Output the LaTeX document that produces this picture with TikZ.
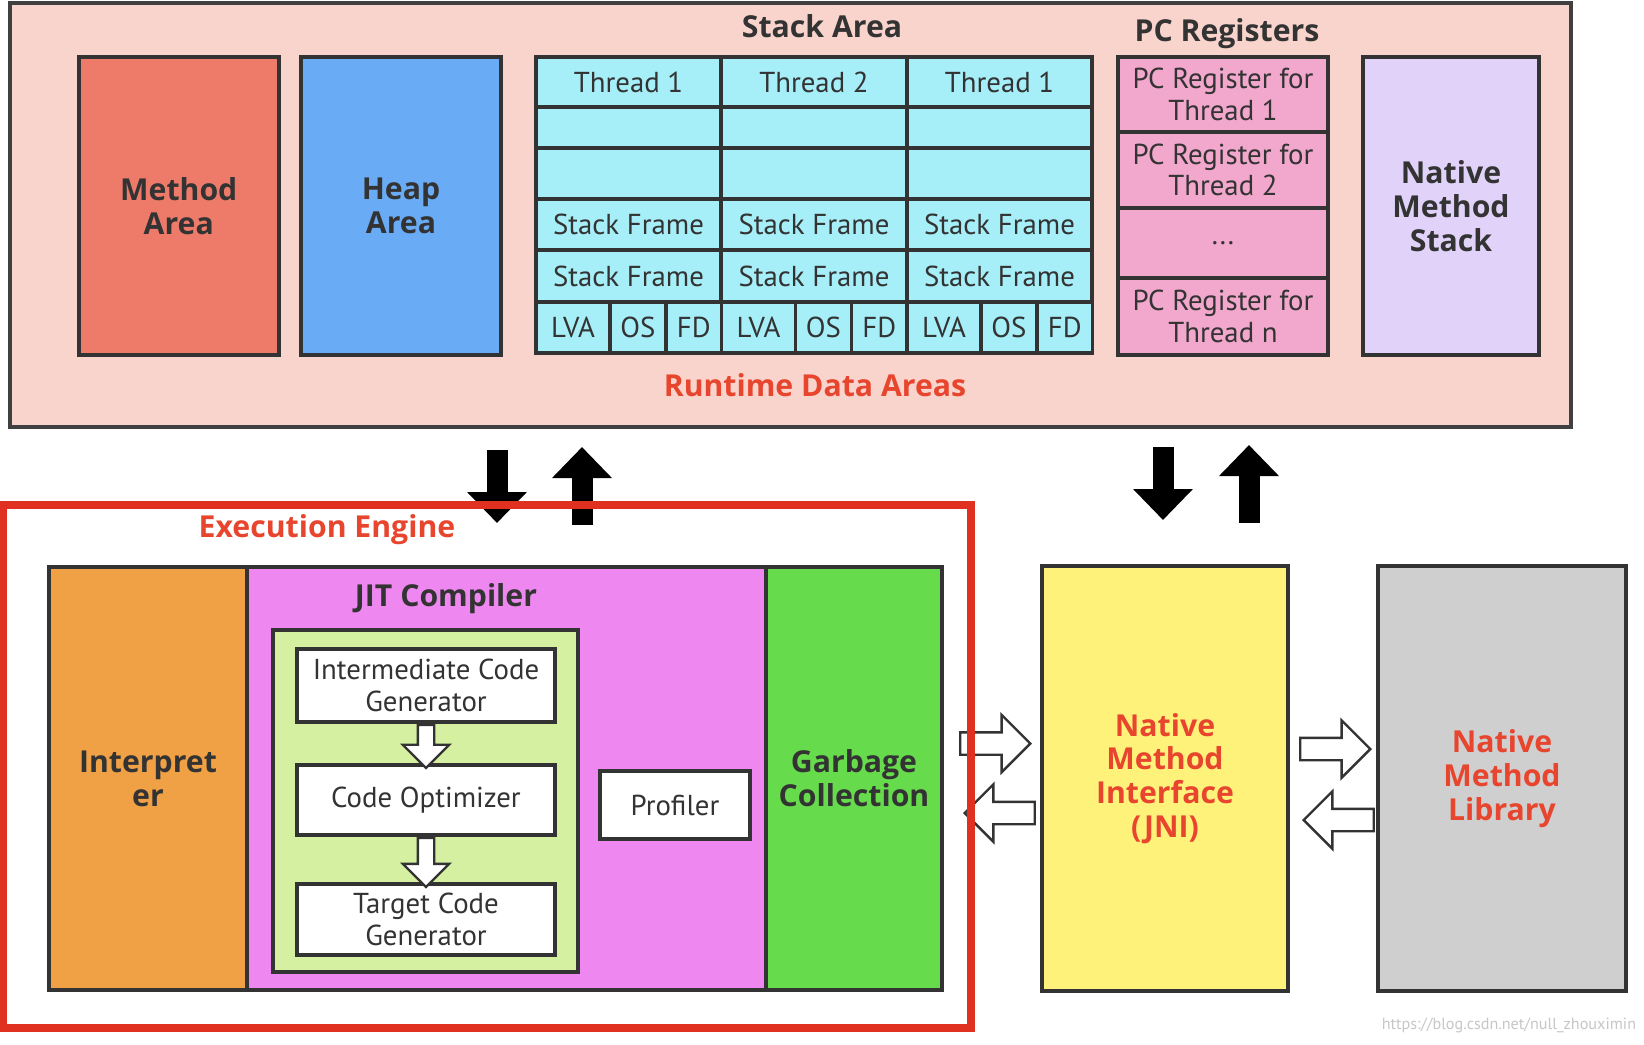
\documentclass[tikz,border=0pt]{standalone}
\usepackage{fontspec}
\setmainfont{PT Sans}
\newfontfamily\titlefont{Open Sans}
\usetikzlibrary{arrows.meta,shapes.arrows}

\definecolor{rdapink}{HTML}{F8D4CC}
\definecolor{methodred}{HTML}{EE7B6A}
\definecolor{heapblue}{HTML}{6AABF5}
\definecolor{stackcyan}{HTML}{A6EEF8}
\definecolor{pcpink}{HTML}{F2A7CC}
\definecolor{nmslilac}{HTML}{E0D2F8}
\definecolor{interporange}{HTML}{F0A045}
\definecolor{jitmagenta}{HTML}{EE88F0}
\definecolor{jitgreen}{HTML}{D4F0A0}
\definecolor{gcgreen}{HTML}{66DB4C}
\definecolor{jniyellow}{HTML}{FFF27A}
\definecolor{libgray}{HTML}{CFCFCF}
\definecolor{labelred}{HTML}{E8452E}
\definecolor{framered}{HTML}{E03020}
\definecolor{textdark}{HTML}{333333}

\newcommand{\boldlbl}{\titlefont\bfseries\fontsize{8.6}{9.6}\selectfont}
\newcommand{\celllbl}{\fontsize{8.2}{9}\selectfont}

\tikzset{
	region/.style={draw=black!75, line width=1pt, inner sep=0pt},
	title/.style={text=textdark, font=\boldlbl, inner sep=0pt},
	redtitle/.style={text=labelred, font=\boldlbl, inner sep=0pt},
	area/.style={draw=black!80, line width=1pt, inner sep=0pt, align=center, text=textdark, font=\boldlbl, minimum width=2.0cm, minimum height=2.98cm},
	cell/.style={draw=black!80, line width=1pt, fill=stackcyan, inner sep=0pt, minimum width=1.855cm, text=textdark, font=\celllbl},
	pcreg/.style={draw=black!80, line width=1pt, fill=pcpink, inner sep=0pt, align=center, minimum width=2.10cm, text=textdark, font=\celllbl},
	engine/.style={draw=black!80, line width=1pt, inner sep=0pt, align=center, minimum height=4.23cm, text=textdark, font=\boldlbl},
	whitebox/.style={draw=black!80, line width=1pt, fill=white, inner sep=0pt, align=center, text=textdark, font=\celllbl},
	native/.style={draw=black!80, line width=1pt, inner sep=0pt, align=center, minimum height=4.25cm, text=labelred, font=\boldlbl},
	bigarrow/.style={black, line width=0.21cm, -{Triangle[length=0.31cm, width=0.58cm]}},
	hollowarrow/.style={single arrow, draw=black!80, fill=white, line width=0.7pt, inner sep=0pt, inner ysep=0.1cm, minimum width=0pt, minimum height=0.70cm, single arrow head extend=0.175cm},
	jitarrow/.style={single arrow, shape border rotate=270, draw=black!80, fill=white, line width=0.7pt, inner sep=0pt, inner xsep=0.07cm, minimum width=0pt, single arrow head extend=0.15cm}
}

\begin{document}
\begin{tikzpicture}
	\path[use as bounding box, fill=white] (0,0) rectangle (16.44,-10.44);
	
	% runtime data areas
	\node[region, fill=rdapink, minimum width=15.61cm, minimum height=4.24cm] (rda) at (7.905,-2.15) {};
	\node[title] (stacklbl) at (8.22,-0.26) {Stack Area};
	\node[title] (pclbl) at (12.27,-0.34) {PC Registers};
	\node[redtitle] (rdalbl) at (8.15,-3.85) {Runtime Data Areas};
	
	\node[area, fill=methodred] (method) at (1.7875,-2.06) {Method\\Area};
	\node[area, fill=heapblue] (heap) at (4.01,-2.06) {Heap\\Area};
	\node[area, fill=nmslilac, minimum width=1.76cm] (nms) at (14.51,-2.06) {Native\\Method\\Stack};
	
	% stack area, one column per thread
	\node[cell, minimum height=0.50cm] (th1) at (6.285,-0.82) {Thread 1};
	\node[cell, minimum height=0.41cm] (ea1) at (6.285,-1.275) {};
	\node[cell, minimum height=0.51cm] (eb1) at (6.285,-1.735) {};
	\node[cell, minimum height=0.51cm] (sfa1) at (6.285,-2.245) {Stack Frame};
	\node[cell, minimum height=0.52cm] (sfb1) at (6.285,-2.76) {Stack Frame};
	\node[cell, minimum height=0.51cm, minimum width=0.74cm] (lva1) at (5.73,-3.275) {LVA};
	\node[cell, minimum height=0.51cm, minimum width=0.56cm] (os1) at (6.38,-3.275) {OS};
	\node[cell, minimum height=0.51cm, minimum width=0.555cm] (fd1) at (6.9375,-3.275) {FD};
	
	\node[cell, minimum height=0.50cm] (th2) at (8.14,-0.82) {Thread 2};
	\node[cell, minimum height=0.41cm] (ea2) at (8.14,-1.275) {};
	\node[cell, minimum height=0.51cm] (eb2) at (8.14,-1.735) {};
	\node[cell, minimum height=0.51cm] (sfa2) at (8.14,-2.245) {Stack Frame};
	\node[cell, minimum height=0.52cm] (sfb2) at (8.14,-2.76) {Stack Frame};
	\node[cell, minimum height=0.51cm, minimum width=0.74cm] (lva2) at (7.585,-3.275) {LVA};
	\node[cell, minimum height=0.51cm, minimum width=0.56cm] (os2) at (8.235,-3.275) {OS};
	\node[cell, minimum height=0.51cm, minimum width=0.555cm] (fd2) at (8.7925,-3.275) {FD};
	
	\node[cell, minimum height=0.50cm] (th3) at (9.995,-0.82) {Thread 1};
	\node[cell, minimum height=0.41cm] (ea3) at (9.995,-1.275) {};
	\node[cell, minimum height=0.51cm] (eb3) at (9.995,-1.735) {};
	\node[cell, minimum height=0.51cm] (sfa3) at (9.995,-2.245) {Stack Frame};
	\node[cell, minimum height=0.52cm] (sfb3) at (9.995,-2.76) {Stack Frame};
	\node[cell, minimum height=0.51cm, minimum width=0.74cm] (lva3) at (9.44,-3.275) {LVA};
	\node[cell, minimum height=0.51cm, minimum width=0.56cm] (os3) at (10.09,-3.275) {OS};
	\node[cell, minimum height=0.51cm, minimum width=0.555cm] (fd3) at (10.6475,-3.275) {FD};
	
	% pc registers
	\node[pcreg, minimum height=0.75cm] (pc1) at (12.23,-0.945) {PC Register for\\Thread 1};
	\node[pcreg, minimum height=0.76cm] (pc2) at (12.23,-1.70) {PC Register for\\Thread 2};
	\node[pcreg, minimum height=0.70cm] (pc3) at (12.23,-2.43) {...};
	\node[pcreg, minimum height=0.77cm] (pc4) at (12.23,-3.165) {PC Register for\\Thread n};
	
	% arrows between the two halves
	\coordinate (mdn0) at (4.97,-4.50);
	\coordinate (mdn1) at (4.97,-5.23);
	\coordinate (mup0) at (5.82,-5.25);
	\coordinate (mup1) at (5.82,-4.47);
	\coordinate (ndn0) at (11.63,-4.47);
	\coordinate (ndn1) at (11.63,-5.20);
	\coordinate (nup0) at (12.49,-5.23);
	\coordinate (nup1) at (12.49,-4.45);
	\draw[bigarrow] (mdn0) -- (mdn1);
	\draw[bigarrow] (mup0) -- (mup1);
	\draw[bigarrow] (ndn0) -- (ndn1);
	\draw[bigarrow] (nup0) -- (nup1);
	
	% execution engine
	\node[engine, fill=interporange, minimum width=1.98cm] (interp) at (1.48,-7.785) {Interpret\\er};
	\node[engine, fill=jitmagenta, minimum width=5.19cm] (jit) at (5.065,-7.785) {};
	\node[engine, fill=gcgreen, minimum width=1.76cm] (gc) at (8.54,-7.785) {Garbage\\Collection};
	\node[title] (jitlbl) at (4.46,-5.99) {JIT Compiler};
	\node[draw=black!80, line width=1pt, fill=jitgreen, minimum width=3.05cm, minimum height=3.42cm] (jitin) at (4.255,-8.01) {};
	\node[whitebox, minimum width=2.58cm, minimum height=0.73cm] (icg) at (4.26,-6.855) {Intermediate Code\\Generator};
	\node[whitebox, minimum width=2.58cm, minimum height=0.70cm] (opt) at (4.26,-8.00) {Code Optimizer};
	\node[whitebox, minimum width=2.58cm, minimum height=0.71cm] (tcg) at (4.26,-9.195) {Target Code\\Generator};
	\node[whitebox, minimum width=1.50cm, minimum height=0.68cm] (prof) at (6.75,-8.05) {Profiler};
	\node[jitarrow, anchor=tail, minimum height=0.43cm] (icgopt) at (icg.south) {};
	\node[jitarrow, anchor=tail, minimum height=0.49cm] (opttcg) at (opt.south) {};
	
	% native side
	\node[native, fill=jniyellow, minimum width=2.46cm] (jni) at (11.65,-7.785) {Native\\Method\\Interface\\(JNI)};
	\node[native, fill=libgray, minimum width=2.48cm] (lib) at (15.02,-7.785) {Native\\Method\\Library};
	
	\node[hollowarrow, anchor=tip] (eejni) at (10.32,-7.435) {};
	\node[hollowarrow, shape border rotate=180, anchor=tip] (jniee) at (9.63,-8.13) {};
	\node[hollowarrow, anchor=tip] (jnilib) at (13.72,-7.49) {};
	\node[hollowarrow, shape border rotate=180, anchor=tip] (libjni) at (13.02,-8.20) {};
	
	\node[draw=framered, line width=2pt, minimum width=9.68cm, minimum height=5.23cm] (ee) at (4.87,-7.665) {};
	\node[redtitle] (eelbl) at (3.27,-5.30) {Execution Engine};
	
	\node[text=black!22, font=\fontsize{4.6}{5}\selectfont, inner sep=0pt] (mark) at (15.09,-10.25) {https://blog.csdn.net/null\_zhouximin};
\end{tikzpicture}
\end{document}
